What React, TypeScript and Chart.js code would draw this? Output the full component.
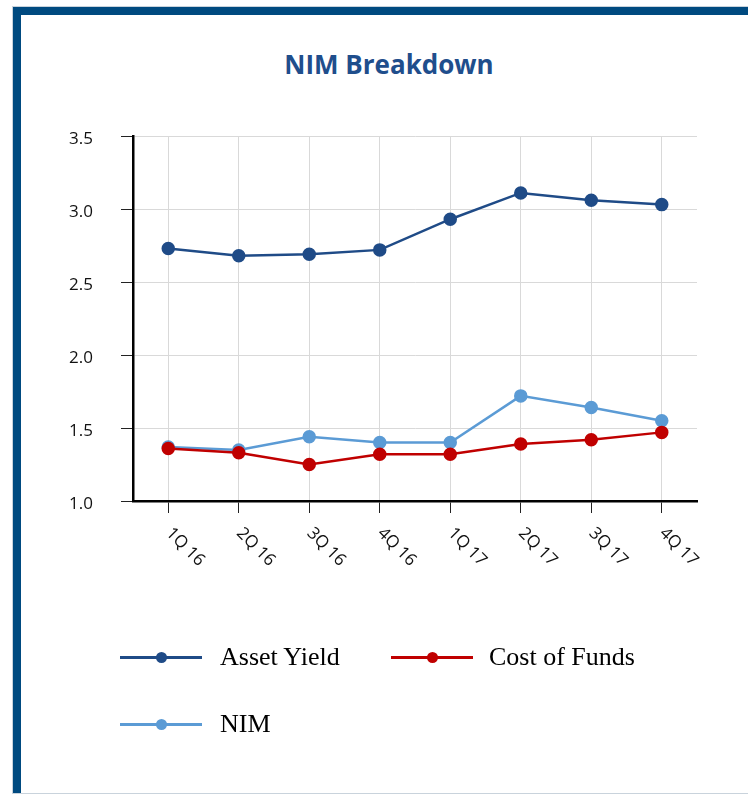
import React, { useEffect, useRef } from "react";
import { Chart, registerables } from "chart.js";

Chart.register(...registerables);

const categories = ["1Q 16", "2Q 16", "3Q 16", "4Q 16", "1Q 17", "2Q 17", "3Q 17", "4Q 17"];
const assetYield = [2.73, 2.68, 2.69, 2.72, 2.93, 3.11, 3.06, 3.03];
const costOfFunds = [1.36, 1.33, 1.25, 1.32, 1.32, 1.39, 1.42, 1.47];
const nim = [1.37, 1.35, 1.44, 1.4, 1.4, 1.72, 1.64, 1.55];
const yTickValues = [1.0, 1.5, 2.0, 2.5, 3.0, 3.5];

const COLORS = {
  asset: "#1f4b87",
  cost: "#c00000",
  nim: "#5b9bd5",
};

const legendItems = [
  { label: "Asset Yield", color: COLORS.asset, x: 120, y: 657, textX: 220 },
  { label: "Cost of Funds", color: COLORS.cost, x: 391, y: 657, textX: 489 },
  { label: "NIM", color: COLORS.nim, x: 120, y: 724, textX: 220 },
];

const xLabelPlugin = {
  id: "rotatedXLabels",
  afterDraw(chart: any) {
    const ctx = chart.ctx;
    const xs = chart.scales.x;
    ctx.save();
    ctx.font = "17px 'Open Sans'";
    ctx.fillStyle = "#111";
    ctx.textAlign = "center";
    ctx.textBaseline = "middle";
    const labels = chart.data.labels as string[];
    labels.forEach((lab, i) => {
      const px = xs.getPixelForValue(i);
      ctx.save();
      ctx.translate(px + 17, xs.bottom + 34);
      ctx.rotate(Math.PI / 4);
      ctx.fillText(lab, 0, 0);
      ctx.restore();
    });
    ctx.restore();
  },
};

export default function App() {
  const ref = useRef<HTMLCanvasElement | null>(null);

  useEffect(() => {
    if (!ref.current) return;
    const ds = (label: string, data: number[], color: string) => ({
      label,
      data,
      borderColor: color,
      backgroundColor: color,
      pointBackgroundColor: color,
      pointBorderColor: color,
      pointRadius: 5.5,
      pointHoverRadius: 5.5,
      borderWidth: 2.5,
      tension: 0,
      fill: false,
    });
    const chart = new Chart(ref.current, {
      type: "line",
      data: {
        labels: categories,
        datasets: [
          ds("Asset Yield", assetYield, COLORS.asset),
          ds("Cost of Funds", costOfFunds, COLORS.cost),
          ds("NIM", nim, COLORS.nim),
        ],
      },
      plugins: [xLabelPlugin],
      options: {
        animation: false,
        responsive: false,
        maintainAspectRatio: false,
        events: [],
        layout: { padding: { left: 21, top: 136, right: 51, bottom: 281 } },
        plugins: {
          legend: { display: false },
          title: { display: false },
          tooltip: { enabled: false },
        },
        scales: {
          x: {
            type: "category",
            offset: true,
            grid: {
              color: "#d9d9d9",
              lineWidth: 1,
              offset: false,
              drawTicks: true,
              tickLength: 12,
              tickColor: "#222",
            },
            border: { color: "#000", width: 2.5 },
            ticks: { display: false },
            afterFit: (s: any) => {
              s.height = 12;
            },
          },
          y: {
            min: 1,
            max: 3.5,
            afterBuildTicks: (s: any) => {
              s.ticks = yTickValues.map((v) => ({ value: v }));
            },
            grid: {
              color: "#d9d9d9",
              lineWidth: 1,
              drawTicks: true,
              tickLength: 12,
              tickColor: "#222",
            },
            border: { color: "#000", width: 2.5 },
            ticks: {
              padding: 28,
              labelOffset: 3,
              color: "#111",
              font: { family: "'Open Sans'", size: 17 },
              callback: (v: any) => Number(v).toFixed(1),
            },
            afterFit: (s: any) => {
              s.width = 112;
            },
          },
        },
      },
    });
    return () => chart.destroy();
  }, []);

  return (
    <div style={{ position: "absolute", left: 0, top: 0, width: 748, height: 794, overflow: "hidden", background: "#fff" }}>
      <div
        style={{
          position: "absolute",
          left: 12,
          top: 6,
          width: 800,
          height: 786,
          borderTop: "1px solid #c9d3dc",
          borderLeft: "1px solid #c9d3dc",
          borderBottom: "1px solid #c9d3dc",
        }}
      >
        <div
          style={{
            position: "absolute",
            left: 0,
            top: 0,
            right: 0,
            bottom: 0,
            borderTop: "8px solid #004a80",
            borderLeft: "8px solid #004a80",
          }}
        />
      </div>
      <div
        style={{
          position: "absolute",
          left: 0,
          width: 778,
          top: 44,
          height: 40,
          lineHeight: "40px",
          textAlign: "center",
          fontFamily: "'Open Sans', sans-serif",
          fontWeight: 700,
          fontSize: 26,
          color: "#1f4e8c",
        }}
      >
        NIM Breakdown
      </div>
      <canvas ref={ref} width={748} height={794} style={{ position: "absolute", left: 0, top: 0, width: 748, height: 794 }} />
      {legendItems.map((it) => (
        <div key={it.label}>
          <div
            style={{
              position: "absolute",
              left: it.x,
              top: it.y - 1.5,
              width: 82,
              height: 3,
              background: it.color,
            }}
          />
          <div
            style={{
              position: "absolute",
              left: it.x + 41 - 5.5,
              top: it.y - 5.5,
              width: 11,
              height: 11,
              borderRadius: 6,
              background: it.color,
            }}
          />
          <div
            style={{
              position: "absolute",
              left: it.textX,
              top: it.y - 18,
              height: 36,
              lineHeight: "36px",
              fontFamily: "'Liberation Serif', 'Times New Roman', serif",
              fontSize: 26,
              color: "#000",
              whiteSpace: "nowrap",
            }}
          >
            {it.label}
          </div>
        </div>
      ))}
    </div>
  );
}
